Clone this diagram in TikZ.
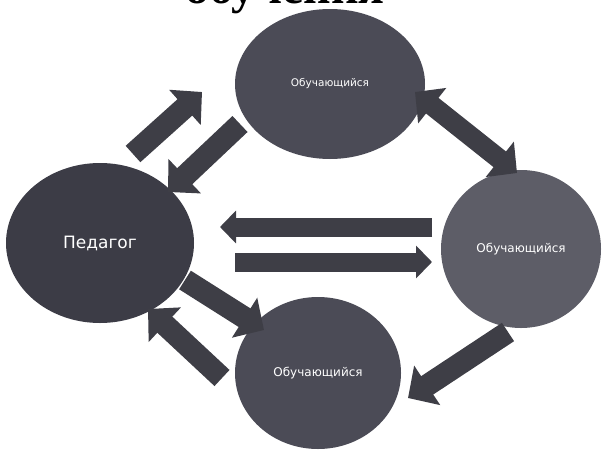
\documentclass[tikz,border=0pt]{standalone}
\usepackage{fontspec}
\newfontfamily\labelfont{DejaVu Sans}
\newfontfamily\titlefont{Liberation Serif}
\usetikzlibrary{positioning, calc, shapes.geometric, arrows.meta}
\definecolor{PedGray}{HTML}{3C3C46}
\definecolor{StudGray}{HTML}{4B4B56}
\definecolor{ArrowGray}{HTML}{3E3E46}
\tikzstyle{Circle} = [
ellipse,
inner sep=0pt,
text=white,
font=\labelfont\fontsize{12}{14}\selectfont]
\tikzstyle{Arrow} = [
line width=22pt,
draw=ArrowGray,
-{Triangle[length=23pt, width=46pt]}]
\tikzstyle{FlatArrow} = [
line width=19pt,
draw=ArrowGray,
-{Triangle[length=16pt, width=32pt]}]
\tikzstyle{TwoWay} = [
line width=20pt,
draw=ArrowGray,
{Triangle[length=22pt, width=44pt]}-{Triangle[length=22pt, width=44pt]}]

\begin{document}
\begin{tikzpicture}[x=1pt, y=-1pt]
    \useasboundingbox (0,0) rectangle (604,450);
    \begin{scope}
        \clip (0,0) rectangle (604,450);
        \node [anchor=base, font=\titlefont\bfseries\fontsize{48}{52}\selectfont] (0) at (285,3) {обучения};
    \end{scope}

    \node [Circle, fill=PedGray, minimum width=188pt, minimum height=160pt,
           font=\labelfont\fontsize{17}{20}\selectfont] (1) at (100,243) {Педагог};
    \node [Circle, fill=StudGray, minimum width=190pt, minimum height=150pt,
           font=\labelfont\fontsize{10.5}{12}\selectfont] (2) at (330,84) {Обучающийся};
    \node [Circle, fill=StudGray!90!white, minimum width=160pt, minimum height=158pt] (3) at (521,249) {Обучающийся};
    \node [Circle, fill=StudGray, minimum width=166pt, minimum height=152pt] (4) at (318,373) {Обучающийся};

    % arrow ends
    \coordinate (a1) at (133,154);
    \coordinate (a2) at (202,92);
    \coordinate (b1) at (240,124);
    \coordinate (b2) at (168,192);
    \coordinate (c1) at (415,92);
    \coordinate (c2) at (517,173);
    \coordinate (d1) at (432,227);
    \coordinate (d2) at (220,227);
    \coordinate (e1) at (235,262);
    \coordinate (e2) at (432,262);
    \coordinate (f1) at (185,280);
    \coordinate (f2) at (264,330);
    \coordinate (g1) at (222,378);
    \coordinate (g2) at (148,309);
    \coordinate (h1) at (508,332);
    \coordinate (h2) at (408,398);

    \draw[Arrow] (a1) to (a2);
    \draw[Arrow] (b1) to (b2);
    \draw[TwoWay] (c1) to (c2);
    \draw[FlatArrow] (d1) to (d2);
    \draw[FlatArrow] (e1) to (e2);
    \draw[Arrow] (f1) to (f2);
    \draw[Arrow] (g1) to (g2);
    \draw[Arrow] (h1) to (h2);
\end{tikzpicture}
\end{document}
